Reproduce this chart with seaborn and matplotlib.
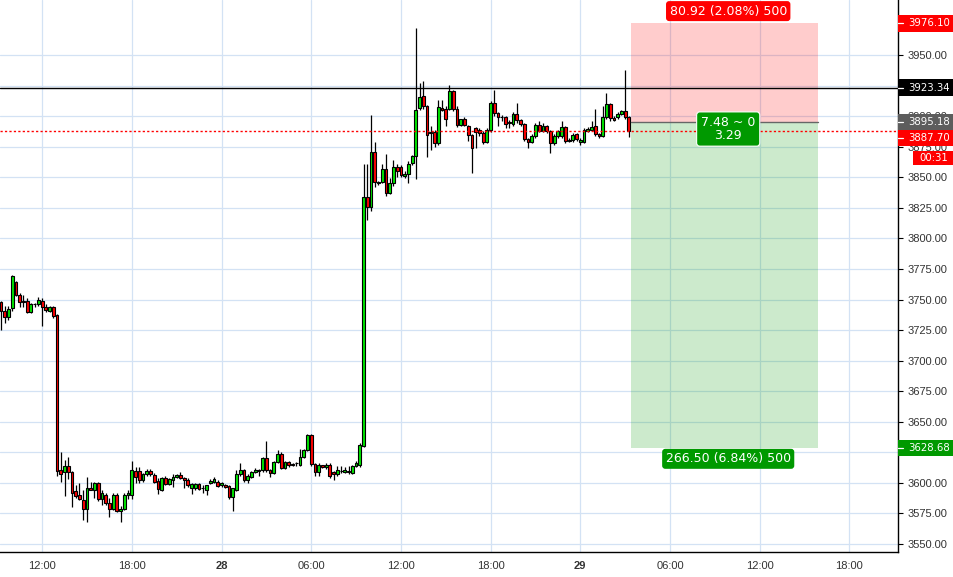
import numpy as np
import pandas as pd
import matplotlib
matplotlib.use("Agg")
import matplotlib.pyplot as plt
import matplotlib.dates as mdates
import matplotlib.transforms as mtransforms
from matplotlib.patches import Rectangle
import seaborn as sns

# ---------------- data (15-minute candles) ----------------
first_time = "2018-12-27 09:15"
opens = [3748, 3741, 3735.5, 3743, 3764, 3754, 3749, 3749, 3740, 3746, 3746, 3749, 3743.5, 3741, 3743.5,
         3737, 3610.5, 3608.6, 3614, 3608.6, 3593, 3590, 3586, 3579, 3596, 3594, 3600, 3586.5, 3590, 3583.7,
         3579, 3590, 3577, 3579, 3590, 3590, 3610, 3610, 3602, 3607, 3610, 3606.5, 3601.5, 3594, 3604,
         3599, 3602, 3605, 3606.5, 3604, 3602, 3596, 3596, 3599, 3595.5, 3594, 3599.6, 3601, 3601, 3598,
         3598, 3597.5, 3588.7, 3594, 3607, 3610.5, 3602, 3605, 3608.6, 3610, 3610.5, 3620, 3610.5, 3608, 3617,
         3623.6, 3612, 3617, 3615.5, 3616, 3615, 3621, 3627, 3639, 3615.5, 3608.6, 3614.6, 3613, 3615, 3609,
         3607.5, 3609.5, 3609, 3610, 3608, 3614, 3615, 3630, 3833.6, 3825.4, 3870.4, 3846, 3846, 3856.7, 3837,
         3845, 3858.6, 3858, 3851, 3853, 3862, 3867, 3907, 3916.5, 3908, 3886, 3887, 3877.8, 3906.4, 3905.6,
         3905.6, 3920.8, 3905.6, 3892.7, 3898, 3892, 3884.6, 3890, 3889, 3886, 3879, 3888.6, 3910.5, 3902.3, 3899.5,
         3899, 3895.5, 3893.5, 3901.5, 3896.8, 3893.3, 3881.3, 3879, 3883.7, 3892.7, 3888, 3892, 3887.5, 3877.8, 3883.7,
         3883.7, 3890.8, 3879.9, 3880.5, 3885.4, 3879, 3879, 3888, 3889, 3891.6, 3885, 3883.7, 3899.5, 3910, 3898.7,
         3899, 3901.8, 3904, 3899]
highs = [3749, 3745, 3745, 3770, 3765, 3755, 3754, 3751, 3747, 3747.5, 3752, 3751, 3746, 3745, 3745,
         3738, 3625, 3619, 3621, 3610, 3598, 3600, 3594, 3604.6, 3601, 3601, 3601, 3594, 3592, 3588,
         3592, 3592, 3581, 3592, 3594, 3618, 3613, 3613, 3608, 3611, 3611, 3608, 3604, 3605, 3606,
         3604, 3607, 3607.5, 3609, 3605, 3604, 3600, 3600, 3600, 3598, 3598, 3603, 3605, 3602, 3601,
         3599, 3598, 3596, 3610.5, 3616.5, 3611, 3607, 3610, 3612, 3611, 3621, 3634.5, 3611, 3618, 3627,
         3625, 3618, 3618, 3616, 3617, 3628, 3628, 3640, 3640, 3616, 3616, 3615, 3616, 3616, 3610,
         3614, 3614, 3613, 3614, 3615, 3618, 3633, 3861, 3861, 3901, 3879, 3847, 3861, 3869, 3849,
         3864, 3861, 3860, 3855, 3863, 3868, 3972, 3927, 3929, 3909, 3892, 3889, 3913, 3913, 3908,
         3925.5, 3921, 3908, 3898, 3899, 3893, 3885, 3891, 3890, 3888, 3890, 3912, 3921.4, 3903, 3901,
         3900, 3897, 3903, 3911, 3898, 3894, 3882, 3885, 3894, 3896, 3894, 3893, 3889, 3885, 3889,
         3896, 3892, 3882, 3886, 3886, 3882, 3890, 3891, 3896, 3906, 3886, 3908, 3918.7, 3911, 3900,
         3903, 3905, 3938, 3900]
lows = [3725, 3731, 3733, 3741, 3753, 3744, 3744, 3739, 3739, 3744, 3745, 3728, 3740, 3740, 3735,
        3606, 3601, 3589, 3603, 3580.5, 3588, 3586, 3570, 3568, 3594, 3588, 3585, 3582, 3582, 3572,
        3578, 3576, 3568, 3578, 3587, 3587, 3600, 3600, 3601, 3606, 3606, 3600, 3591, 3593, 3598,
        3598, 3597, 3604, 3603.5, 3595.6, 3597, 3591, 3594, 3594, 3592, 3590, 3599, 3600, 3597, 3597,
        3596, 3587, 3577, 3593, 3606, 3601, 3600, 3604, 3608, 3606, 3609, 3609, 3605, 3607, 3616,
        3611, 3611, 3613, 3614, 3614, 3614, 3620, 3626, 3614, 3605.6, 3605.6, 3612, 3611, 3604, 3602,
        3606, 3608, 3608, 3607, 3607, 3613, 3613, 3629, 3815, 3822, 3841.8, 3844, 3845, 3834.7, 3836,
        3843, 3850, 3850, 3849, 3845, 3860, 3848.6, 3905, 3906, 3866.8, 3872, 3875, 3876, 3904, 3892,
        3905, 3904, 3891, 3892, 3892, 3880, 3853.7, 3874, 3884, 3877, 3878, 3887, 3900, 3892, 3896,
        3890, 3890, 3892, 3894, 3892, 3880, 3873.7, 3878, 3882, 3887, 3887, 3886, 3870, 3876, 3882,
        3882, 3878, 3879, 3879, 3880, 3876, 3878, 3887, 3888, 3884, 3882, 3883, 3898, 3896, 3896,
        3898, 3901, 3898, 3883]
closes = [3741, 3735.5, 3742, 3769, 3754, 3748, 3748, 3740, 3746, 3746.3, 3750, 3743.5, 3741.5, 3743.5, 3736.5,
          3610, 3607, 3614, 3608.6, 3592, 3589, 3586.5, 3579, 3595.6, 3594, 3600, 3586.5, 3591.5, 3583.7, 3579,
          3590, 3577, 3579, 3590, 3592, 3610.5, 3604.6, 3602, 3607, 3610, 3607, 3601, 3594.7, 3604, 3599,
          3603, 3605, 3606.5, 3604, 3602, 3598, 3599, 3599, 3595, 3596, 3598, 3601.5, 3603, 3597.5, 3600,
          3597, 3588.7, 3595.5, 3607, 3610.5, 3602, 3605.6, 3608.6, 3610.5, 3610.3, 3620, 3610.5, 3608, 3617, 3623.6,
          3612, 3617, 3614.6, 3614.5, 3616.2, 3621, 3627, 3639, 3615.5, 3608.6, 3614.6, 3613, 3615, 3605.6, 3607.5,
          3610.5, 3609.7, 3610.5, 3608.5, 3614, 3616, 3631, 3833.6, 3825.4, 3870.4, 3846, 3845, 3856.7, 3837, 3845,
          3858.6, 3855, 3852, 3853, 3861, 3867, 3905, 3915.4, 3908, 3884.6, 3887, 3877.8, 3907.2, 3905, 3897.4,
          3920.8, 3905.6, 3892.7, 3897.4, 3892.7, 3884.6, 3873.7, 3887, 3886.5, 3879, 3888.6, 3910.5, 3902.3, 3899.5, 3899,
          3893.5, 3894.5, 3901.5, 3896.8, 3893.3, 3881.3, 3879, 3883.7, 3892.7, 3888, 3892, 3887.5, 3877.8, 3883.7, 3888,
          3890.8, 3879.9, 3880.7, 3884.6, 3881, 3880.5, 3889, 3889.5, 3891.5, 3885, 3883.5, 3899.5, 3910, 3898.7, 3897,
          3901.8, 3904, 3899, 3887.7]

# position tool (short): entry, stop, target and its time span
pos_start = "2018-12-29 03:23"
pos_end = "2018-12-29 15:52"
entry_price = 3895.18
stop_price = 3976.10
target_price = 3628.68
stop_text = "80.92 (2.08%) 500"
mid_text = "7.48 ~ 0\n3.29"
target_text = "266.50 (6.84%) 500"

hline_price = 3923.34
last_price = 3887.70
countdown_text = "00:31"

ytick_values = list(range(3550, 3951, 25))
xtick_times = ["2018-12-27 12:00", "2018-12-27 18:00", "2018-12-28 00:00", "2018-12-28 06:00",
               "2018-12-28 12:00", "2018-12-28 18:00", "2018-12-29 00:00", "2018-12-29 06:00",
               "2018-12-29 12:00", "2018-12-29 18:00"]
xtick_labels = ["12:00", "18:00", "28", "06:00", "12:00", "18:00", "29", "06:00", "12:00", "18:00"]
xlim_times = ["2018-12-27 09:11", "2018-12-29 21:15"]
ylim = (3543.46, 3995.0)

# ---------------- style ----------------
sns.set_style("white")
plt.rcParams["font.family"] = ["Liberation Sans", "DejaVu Sans"]

RED = "#ff0000"
GREEN_BOX = "#009900"
CANDLE_UP = "#00e600"
CANDLE_DN = "#ff0000"
GRID = "#d3e2f4"

times = pd.date_range(first_time, periods=len(opens), freq="15min")
df = pd.DataFrame({"time": times, "open": opens, "high": highs, "low": lows, "close": closes})
df["up"] = df["close"] >= df["open"]
df["bottom"] = df[["open", "close"]].min(axis=1)
df["height"] = (df["close"] - df["open"]).abs().clip(lower=0.5)

fig = plt.figure(figsize=(9.54, 5.77), dpi=100)
W, H = 954.0, 577.0
ax = fig.add_axes([0, 25 / H, 898 / W, 552 / H])

ax.set_xlim(pd.Timestamp(xlim_times[0]), pd.Timestamp(xlim_times[1]))
ax.set_ylim(*ylim)

# grid
ax.set_axisbelow(True)
ax.grid(True, color=GRID, linewidth=0.9)

# candles
w = 0.75 / 96.0
ax.vlines(df["time"], df["low"], df["high"], color="black", linewidth=0.9, zorder=3)
ax.bar(df["time"], df["height"], bottom=df["bottom"], width=w,
       color=np.where(df["up"], CANDLE_UP, CANDLE_DN), edgecolor="black", linewidth=0.8, zorder=4)

# position tool
ps, pe = pd.Timestamp(pos_start), pd.Timestamp(pos_end)
ax.fill_between([ps, pe], entry_price, stop_price, color=RED, alpha=0.2, linewidth=0, zorder=2)
ax.fill_between([ps, pe], target_price, entry_price, color="#009900", alpha=0.2, linewidth=0, zorder=2)
ax.plot([ps, pe], [entry_price, entry_price], color="#666666", linewidth=1, zorder=5)

# horizontal lines
ax.axhline(hline_price, color="black", linewidth=1, zorder=5)
ax.axhline(last_price, color=RED, linewidth=1, linestyle=(0, (1.6, 1.6)), zorder=5)

# position labels
mid = ps + (pe - ps) / 2
box_kw = dict(boxstyle="round,pad=0.28,rounding_size=0.25", ec="none")
ax.annotate(stop_text, xy=(mid, stop_price), xytext=(4, 12), textcoords="offset pixels",
            ha="center", va="center", color="white", fontsize=9, family="DejaVu Sans",
            bbox=dict(fc=RED, **box_kw), zorder=7)
ax.annotate(mid_text, xy=(mid, entry_price), xytext=(4, -7), textcoords="offset pixels",
            ha="center", va="center", color="white", fontsize=9, family="DejaVu Sans",
            linespacing=0.95, multialignment="center",
            bbox=dict(fc=GREEN_BOX, boxstyle="round,pad=0.35,rounding_size=0.25", ec="white", lw=0.8), zorder=7)
ax.annotate(target_text, xy=(mid, target_price), xytext=(4, -11), textcoords="offset pixels",
            ha="center", va="center", color="white", fontsize=9, family="DejaVu Sans",
            bbox=dict(fc=GREEN_BOX, **box_kw), zorder=7)

# axes / ticks
for s in ["left", "top"]:
    ax.spines[s].set_visible(False)
for s in ["right", "bottom"]:
    ax.spines[s].set_visible(True)
    ax.spines[s].set_color("black")
    ax.spines[s].set_linewidth(1.0)
ax.yaxis.tick_right()
ax.set_yticks(ytick_values)
ax.set_yticklabels([f"{v:.2f}" for v in ytick_values])
ax.tick_params(axis="y", which="both", right=True, left=False, direction="out", length=3.6,
               width=0.8, color="black", pad=3.5, labelsize=8, labelcolor="#333333")
ax.set_xticks([pd.Timestamp(t) for t in xtick_times])
ax.set_xticklabels(xtick_labels)
ax.tick_params(axis="x", bottom=True, length=0, pad=6.5, labelsize=8, labelcolor="#333333")
for lab in ax.get_xticklabels():
    if ":" not in lab.get_text():
        lab.set_fontweight("bold")
ax.set_xlabel("")
ax.set_ylabel("")

# right-axis price labels
trans = mtransforms.blended_transform_factory(ax.transAxes, ax.transData)
ppx = (ylim[1] - ylim[0]) / 552.0  # price per pixel
axw = 898.0


def price_label(value, text, color, shift_px=0.0, height_px=17.0):
    yc = value + shift_px * ppx
    ax.add_patch(Rectangle((1.0, yc - height_px / 2 * ppx), 56 / axw, height_px * ppx,
                           transform=trans, facecolor=color, edgecolor="none",
                           clip_on=False, zorder=8))
    ax.plot([1.0, 1.0 + 5 / axw], [yc, yc], transform=trans, color="white", lw=0.9,
            clip_on=False, zorder=9)
    ax.text(1.0 + 10 / axw, yc, text, transform=trans, ha="left", va="center",
            color="white", fontsize=7.3, family="DejaVu Sans", clip_on=False, zorder=9)
    return yc


price_label(stop_price, f"{stop_price:.2f}", RED)
price_label(hline_price, f"{hline_price:.2f}", "black")
price_label(entry_price, f"{entry_price:.2f}", "#5d5d5d", height_px=16)
yc_last = price_label(last_price, f"{last_price:.2f}", RED, shift_px=-7, height_px=16.5)
yc_cd = yc_last - 20 * ppx
ax.add_patch(Rectangle((1.0 + 15 / axw, yc_cd - 6.7 * ppx), 41 / axw, 13.4 * ppx,
                       transform=trans, facecolor=RED, edgecolor="none", clip_on=False, zorder=8))
ax.text(1.0 + 35.5 / axw, yc_cd, countdown_text, transform=trans, ha="center", va="center",
        color="white", fontsize=7.3, family="DejaVu Sans", clip_on=False, zorder=9)
price_label(target_price, f"{target_price:.2f}", GREEN_BOX, height_px=15.5)

fig.savefig("out.png", dpi=100, facecolor="white")
